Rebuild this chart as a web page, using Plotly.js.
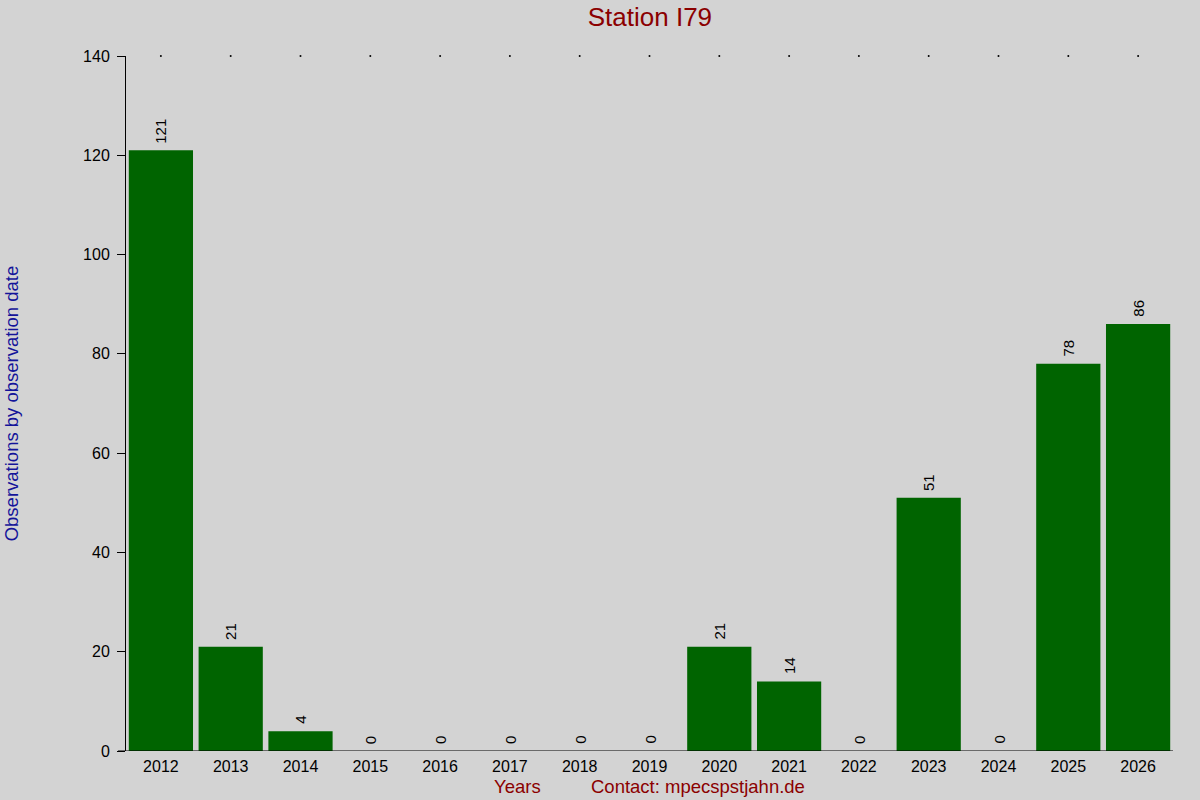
<!DOCTYPE html>
<html>
<head>
<meta charset="utf-8">
<script src="https://cdn.plot.ly/plotly-3.0.1.min.js"></script>
<style>
  html, body { margin: 0; padding: 0; background: #d3d3d3; }
  #chart { width: 1200px; height: 800px; }
</style>
</head>
<body>
<div id="chart"></div>
<script>
/* ── Station observations per year ── */

const YEARS = ['2012','2013','2014','2015','2016','2017','2018','2019',
               '2020','2021','2022','2023','2024','2025','2026'];
const COUNTS = [121, 21, 4, 0, 0, 0, 0, 0, 21, 14, 0, 51, 0, 78, 86];
const Y_TICKS = [0, 20, 40, 60, 80, 100, 120, 140];
const Y_MAX = 140;

const BG = '#d3d3d3';
const BAR_COLOR = '#006400';
const RED = '#8b0000';
const BLUE = '#14149a';
const FONT = 'Liberation Sans, Arial, sans-serif';

const bars = {
    x: YEARS,
    y: COUNTS,
    type: 'bar',
    width: 0.92,
    marker: { color: BAR_COLOR, line: { width: 0 } },
    hoverinfo: 'x+y',
};

// little dots along the top edge, one per year
const topDots = {
    x: YEARS,
    y: YEARS.map(() => Y_MAX),
    mode: 'markers',
    type: 'scatter',
    marker: { size: 2, color: '#000' },
    cliponaxis: false,
    hoverinfo: 'skip',
};

// value labels, rotated, sitting above each bar
// (category axis -> annotation x is the category index)
const valueLabels = YEARS.map((yr, i) => ({
    x: i, y: COUNTS[i], xref: 'x', yref: 'y',
    text: String(COUNTS[i]),
    textangle: -90, showarrow: false,
    yanchor: 'bottom', yshift: 5,
    font: { family: FONT, size: 15, color: '#000' },
}));

const layout = {
    width: 1200,
    height: 800,
    paper_bgcolor: BG,
    plot_bgcolor: BG,
    showlegend: false,
    margin: { l: 126, r: 27, t: 56, b: 49 },
    font: { family: FONT, size: 16, color: '#000' },
    title: {
        text: 'Station I79',
        font: { family: FONT, size: 26, color: RED },
        x: 0.5416, xanchor: 'center', y: 0.979, yanchor: 'middle',
    },
    xaxis: {
        type: 'category',
        range: [-0.5, 14.5],
        showgrid: false, zeroline: false,
        showline: false,
        ticks: '',
        ticklabelstandoff: 4,
        tickfont: { family: FONT, size: 16, color: '#000' },
        fixedrange: true,
    },
    yaxis: {
        range: [0, Y_MAX],
        tickvals: Y_TICKS,
        showgrid: false, zeroline: false,
        showline: true, linecolor: '#000', linewidth: 1,
        ticks: 'outside', ticklen: 8, tickcolor: '#000',
        ticklabelstandoff: 4,
        tickfont: { family: FONT, size: 16, color: '#000' },
        fixedrange: true,
    },
    shapes: [{
        type: 'line', xref: 'paper', yref: 'y',
        x0: -0.0076, x1: 1, y0: 0, y1: 0,
        line: { color: '#000', width: 1 },
    }],
    annotations: valueLabels.concat([
        {
            text: 'Observations by observation date',
            xref: 'paper', yref: 'paper', x: -0.121, y: 0.5,
            textangle: -90, showarrow: false,
            font: { family: FONT, size: 18.5, color: BLUE },
        },
        {
            text: 'Years',
            xref: 'paper', yref: 'paper', x: 0.3735, y: -0.051,
            yanchor: 'middle', showarrow: false,
            font: { family: FONT, size: 18.5, color: RED },
        },
        {
            text: 'Contact: mpecspstjahn.de',
            xref: 'paper', yref: 'paper', x: 0.5463, y: -0.051,
            yanchor: 'middle', showarrow: false,
            font: { family: FONT, size: 18.5, color: RED },
        },
    ]),
};

Plotly.newPlot('chart', [bars, topDots], layout, { staticPlot: true });
</script>
</body>
</html>
